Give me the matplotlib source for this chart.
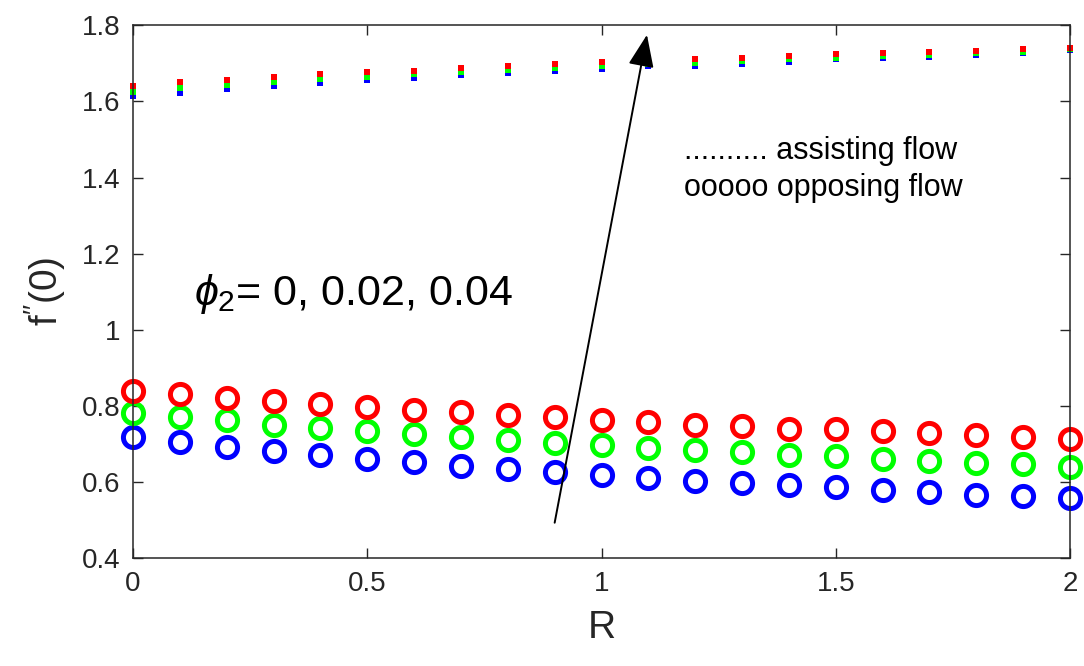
import numpy as np
import matplotlib.pyplot as plt

plt.rcParams['font.family'] = ['Liberation Sans', 'DejaVu Sans']
plt.rcParams['mathtext.fontset'] = 'custom'
plt.rcParams['mathtext.rm'] = 'Liberation Sans'
plt.rcParams['mathtext.it'] = 'Liberation Sans:italic'

R = np.round(np.arange(0, 2.01, 0.1), 1)

# assisting flow (dotted markers near top)
assist_phi0 = [1.613, 1.623, 1.632, 1.641, 1.648, 1.655, 1.661, 1.670, 1.674, 1.680, 1.686,
               1.692, 1.694, 1.699, 1.704, 1.711, 1.713, 1.717, 1.721, 1.726, 1.735]
assist_phi002 = [1.626, 1.636, 1.643, 1.650, 1.658, 1.665, 1.671, 1.678, 1.683, 1.687, 1.693,
                 1.698, 1.700, 1.705, 1.711, 1.715, 1.720, 1.723, 1.727, 1.731, 1.738]
assist_phi004 = [1.641, 1.650, 1.657, 1.665, 1.671, 1.677, 1.681, 1.689, 1.693, 1.698, 1.703,
                 1.707, 1.711, 1.715, 1.720, 1.724, 1.726, 1.730, 1.733, 1.737, 1.741]

# opposing flow (circles)
oppose_phi0 = [0.718, 0.705, 0.692, 0.681, 0.670, 0.661, 0.652, 0.643, 0.634, 0.626, 0.619,
               0.611, 0.603, 0.597, 0.591, 0.586, 0.579, 0.573, 0.567, 0.563, 0.558]
oppose_phi002 = [0.782, 0.771, 0.764, 0.751, 0.742, 0.733, 0.725, 0.718, 0.711, 0.703, 0.696,
                 0.689, 0.683, 0.678, 0.672, 0.668, 0.661, 0.656, 0.650, 0.646, 0.640]
oppose_phi004 = [0.839, 0.830, 0.821, 0.814, 0.805, 0.797, 0.790, 0.783, 0.777, 0.770, 0.764,
                 0.758, 0.751, 0.746, 0.740, 0.738, 0.733, 0.729, 0.723, 0.718, 0.714]

colors = ['#0000ff', '#00ff00', '#ff0000']

fig = plt.figure(figsize=(10.84, 6.66), dpi=100)
ax = fig.add_axes([0.1227, 0.162, 0.8644, 0.8])

for ys, c in zip([oppose_phi0, oppose_phi002, oppose_phi004], colors):
    ax.plot(R, ys, 'o', ms=14.5, mfc='none', mec=c, mew=3.6, clip_on=False)
for ys, c in zip([assist_phi0, assist_phi002, assist_phi004], colors):
    ax.plot(R, ys, 's', ms=4.3, mfc=c, mec=c, mew=0, clip_on=False)

ax.annotate('', xy=(1.097, 1.775), xytext=(0.9, 0.493),
            arrowprops=dict(arrowstyle='-|>,head_length=2.0,head_width=0.8',
                            color='black', lw=1.4, shrinkA=0, shrinkB=0))

ax.text(0.13, 1.095, r'$\phi_2$= 0, 0.02, 0.04', fontsize=31, va='center', ha='left')
ax.text(1.176, 1.47, '.......... assisting flow', fontsize=22, va='center', ha='left')
ax.text(1.176, 1.372, 'ooooo opposing flow', fontsize=22, va='center', ha='left')

ax.set_xlim(0, 2)
ax.set_ylim(0.4, 1.8)
ax.set_xticks([0, 0.5, 1, 1.5, 2])
ax.set_xticklabels(['0', '0.5', '1', '1.5', '2'])
ax.set_yticks([0.4, 0.6, 0.8, 1.0, 1.2, 1.4, 1.6, 1.8])
ax.set_yticklabels(['0.4', '0.6', '0.8', '1', '1.2', '1.4', '1.6', '1.8'])
ax.tick_params(direction='in', length=7, width=1, top=True, right=True,
               labelsize=20, colors='#262626', pad=9)
for s in ax.spines.values():
    s.set_color('#262626')
    s.set_linewidth(1.1)

ax.set_xlabel('R', fontsize=28, color='#262626', labelpad=10)
ax.set_ylabel(r"f$^{\prime\prime}$(0)", fontsize=28, color='#262626', labelpad=10)

fig.savefig('out.png', dpi=100)
